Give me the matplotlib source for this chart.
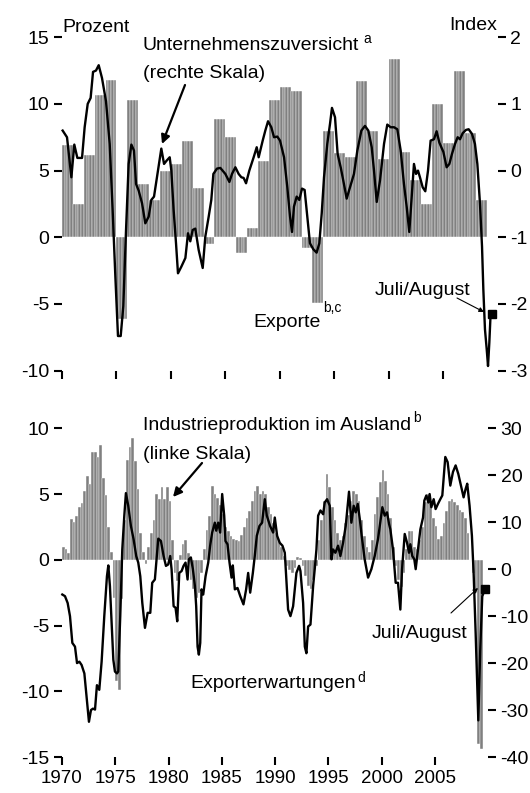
import numpy as np
import matplotlib.pyplot as plt

plt.rcParams['font.family'] = ['Liberation Sans', 'DejaVu Sans']
plt.rcParams['axes.unicode_minus'] = False

W, H = 530, 793

# --- oberes Bild: Exporte (Jahreswerte, linke Skala) ---
export_years = list(range(1970, 2009))
exports = [6.9, 2.5, 6.2, 10.7, 11.8, -6.1, 10.3, 4.0, 2.8, 5.0,
           5.5, 7.2, 3.7, -0.5, 8.9, 7.5, -1.2, 0.7, 5.7, 10.3,
           11.3, 11.0, -0.8, -4.9, 8.0, 6.3, 6.0, 11.7, 8.0, 5.9,
           13.4, 6.4, 4.3, 2.5, 10.0, 7.1, 12.5, 7.8, 2.8]

# Unternehmenszuversicht (rechte Skala, Index)
conf_t = [1970.06, 1970.46, 1970.86, 1971.13, 1971.41, 1971.84, 1972.08, 1972.36, 1972.63, 1972.85,
          1973.12, 1973.37, 1973.67, 1974.04, 1974.38, 1974.65, 1974.90,
          1975.14, 1975.39, 1975.63, 1975.88, 1976.12, 1976.37, 1976.61, 1976.80, 1977.04, 1977.35,
          1977.65, 1977.96, 1978.20, 1978.45, 1978.72, 1979.12, 1979.37, 1979.61, 1979.89,
          1980.04, 1980.25, 1980.47, 1980.65, 1980.96, 1981.33, 1981.57, 1981.78, 1982.00, 1982.24,
          1982.55, 1982.92, 1983.16, 1983.47, 1983.71, 1983.90, 1984.23, 1984.54,
          1985.00, 1985.37, 1985.61, 1985.92, 1986.22, 1986.47, 1986.68, 1986.90, 1987.20, 1987.60,
          1987.88, 1988.06, 1988.43, 1988.67, 1988.92, 1989.22, 1989.47, 1989.77,
          1990.02, 1990.39, 1990.69, 1990.94, 1991.12, 1991.30, 1991.55, 1991.79, 1992.04, 1992.28,
          1992.53, 1992.77, 1993.08, 1993.38, 1993.63, 1993.85, 1994.06, 1994.36, 1994.61, 1994.79,
          1995.07, 1995.31, 1995.59, 1995.83, 1996.14, 1996.45, 1996.81, 1997.12, 1997.49, 1997.82,
          1998.13, 1998.44, 1998.65, 1998.90, 1999.20, 1999.57, 1999.87,
          2000.18, 2000.49, 2000.79, 2001.10, 2001.40, 2001.65, 2001.89, 2002.11, 2002.32, 2002.51,
          2002.69, 2002.87, 2003.12, 2003.36, 2003.61, 2003.85, 2004.16, 2004.40, 2004.65,
          2005.02, 2005.32, 2005.57, 2005.81, 2006.09, 2006.33, 2006.55, 2006.79, 2007.10, 2007.34,
          2007.65, 2007.92, 2008.14, 2008.38, 2008.57, 2008.69, 2008.84, 2009.00, 2009.12, 2009.24,
          2009.36, 2009.46]
conf_v = [0.60, 0.50, -0.10, 0.39, 0.19, 0.19, 0.65, 1.00, 1.09, 1.48,
          1.50, 1.58, 1.39, 1.04, 0.40, -0.59, -1.59,
          -2.48, -2.48, -2.03, -0.89, 0.10, 0.39, 0.30, -0.20, -0.30, -0.49,
          -0.79, -0.69, -0.44, -0.39, -0.10, 0.33, 0.10, 0.15, 0.20,
          0.00, -0.59, -1.09, -1.54, -1.44, -1.31, -0.94, -1.06, -0.89, -0.87,
          -1.19, -1.46, -0.99, -0.69, -0.44, -0.05, 0.03, 0.04,
          -0.05, -0.17, -0.05, 0.05, -0.05, -0.10, -0.11, -0.19, 0.00, 0.20,
          0.35, 0.20, 0.45, 0.60, 0.74, 0.65, 0.50, 0.51,
          0.45, 0.20, -0.25, -0.69, -0.92, -0.54, -0.39, -0.44, -0.27, -0.29,
          -0.69, -1.09, -1.18, -1.23, -1.09, -0.64, -0.10, 0.40, 0.70, 0.94,
          0.80, 0.25, 0.05, -0.15, -0.42, -0.25, -0.05, 0.30, 0.60, 0.67,
          0.60, 0.35, 0.00, -0.47, -0.15, 0.40, 0.69,
          0.65, 0.65, 0.62, 0.30, -0.20, -0.54, -0.92, -0.39, 0.10, -0.05,
          0.00, -0.10, -0.25, -0.31, 0.00, 0.45, 0.47, 0.59, 0.42,
          0.28, 0.05, 0.10, 0.25, 0.40, 0.50, 0.47, 0.56, 0.61, 0.62,
          0.55, 0.40, 0.10, -0.49, -1.14, -1.78, -2.38, -2.68, -2.93, -2.58,
          -2.14, -2.15]
conf_julaug_t, conf_julaug_v = 2009.46, -2.15

# --- unteres Bild: Industrieproduktion im Ausland (Quartale ab 1970Q1, linke Skala) ---
prod_start = 1970
prod = [1.0, 0.8, 0.5, 3.1,   2.9, 3.3, 4.0, 4.3,   5.2, 6.4, 5.8, 8.2,   8.2, 7.8, 8.7, 6.2,
        4.9, 2.5, 0.6, -2.9,  -9.2, -9.9, -3.0, 3.0, 7.6, 8.6, 9.3, 7.5,   5.4, 2.0, 0.6, -0.3,
        1.0, 2.0, 3.0, 5.0,   4.6, 5.5, 4.6, 5.5,   4.5, 1.5, -1.0, -1.6,  0.4, 1.2, 1.5, 0.5,
        -1.5, -2.2, -2.9, -2.5, -1.0, 0.8, 2.3, 3.3, 5.6, 5.0, 4.7, 4.2,   3.5, 2.5, 2.2, 1.8,
        1.6, 1.5, 1.4, 1.9,   2.5, 3.2, 3.7, 4.5,   5.2, 5.6, 5.0, 5.2,   5.0, 4.0, 3.5, 2.8,
        2.0, 1.5, 1.0, 0.3,   -0.5, -0.8, -1.0, -0.6, 0.2, 0.1, -0.5, -1.2, -2.0, -2.2, -1.5, -0.5,
        1.5, 3.0, 4.5, 6.5,   5.5, 4.0, 3.0, 2.0,   1.5, 1.8, 2.8, 3.4,   4.5, 5.2, 5.0, 4.5,
        3.0, 1.8, 1.0, 0.6,   1.5, 3.5, 4.8, 5.9,   6.8, 6.0, 5.0, 3.2,   1.0, -0.5, -1.5, -2.1,
        -1.0, 0.8, 2.2, 2.2,  1.0, 0.8, 1.5, 2.5,   4.4, 5.0, 4.3, 3.2,   2.6, 1.6, 1.8, 2.8,
        3.7, 4.5, 4.6, 4.4,   4.2, 3.8, 3.6, 3.2,   2.0, 0.0, -1.0, -2.2,  -14.0, -14.4]

# Exporterwartungen (rechte Skala)
expect_t = [1970.03, 1970.28, 1970.53, 1970.75, 1970.97, 1971.22, 1971.41, 1971.63, 1971.84, 1972.10,
            1972.31, 1972.53, 1972.72, 1972.91, 1973.10, 1973.28, 1973.50, 1973.72, 1973.97, 1974.22,
            1974.35, 1974.50, 1974.66, 1974.82, 1974.97,
            1975.16, 1975.28, 1975.47, 1975.66, 1975.85, 1976.00, 1976.22, 1976.47, 1976.72, 1976.97,
            1977.16, 1977.35, 1977.54, 1977.79, 1978.04, 1978.29, 1978.47, 1978.72, 1979.04, 1979.29,
            1979.54, 1979.76, 1979.97,
            1980.16, 1980.29, 1980.48, 1980.66, 1980.82, 1981.01, 1981.23, 1981.41, 1981.60, 1981.79,
            1981.91, 1982.10, 1982.29, 1982.48, 1982.60, 1982.73, 1982.85, 1982.98, 1983.10, 1983.26,
            1983.48, 1983.73, 1983.91, 1984.10, 1984.35, 1984.48, 1984.67, 1984.85,
            1985.04, 1985.23, 1985.35, 1985.54, 1985.73, 1985.92, 1986.04, 1986.23, 1986.48, 1986.73,
            1987.04, 1987.29, 1987.48, 1987.67, 1987.92, 1988.10, 1988.29, 1988.54, 1988.79, 1989.04,
            1989.23, 1989.54, 1989.82,
            1989.98, 1990.20, 1990.45, 1990.70, 1990.92, 1991.08, 1991.23, 1991.45, 1991.70, 1992.01,
            1992.26, 1992.39, 1992.64, 1992.80, 1992.95, 1993.11, 1993.33, 1993.58, 1993.73, 1993.89,
            1994.05, 1994.27, 1994.52, 1994.67, 1994.89,
            1995.14, 1995.30, 1995.45, 1995.67, 1995.92, 1996.14, 1996.39, 1996.64, 1996.95, 1997.17,
            1997.39, 1997.58, 1997.77, 1997.96, 1998.14, 1998.42, 1998.74, 1999.05, 1999.36, 1999.67,
            2000.08, 2000.30, 2000.52, 2000.71, 2000.83, 2001.08, 2001.33, 2001.55, 2001.77, 2001.93,
            2002.18, 2002.40, 2002.58, 2002.71, 2002.89, 2003.08, 2003.21, 2003.43, 2003.65, 2003.90,
            2004.02, 2004.21, 2004.40, 2004.52, 2004.68, 2004.90,
            2005.08, 2005.30, 2005.52, 2005.71, 2005.83, 2005.99, 2006.21, 2006.46, 2006.71, 2006.96,
            2007.21, 2007.49, 2007.71, 2007.90, 2008.05, 2008.27, 2008.49, 2008.65, 2008.84, 2008.96,
            2009.09, 2009.27, 2009.46, 2009.71]
expect_v = [-5.4, -5.75, -7.2, -10.0, -15.7, -16.5, -20.0, -19.7, -20.4, -22.2,
            -27.2, -32.5, -30.0, -29.7, -29.9, -24.7, -25.7, -19.7, -10.0, -1.5,
            0.8, -3.6, -11.5, -19.3, -21.8,
            -22.2, -21.8, -10.0, 4.2, 11.4, 16.2, 13.5, 9.2, 6.4, 2.8,
            1.4, -1.5, -7.2, -12.5, -9.3, -9.3, -2.9, -2.2, 6.5, 6.0,
            2.8, 0.7, 1.0,
            2.8, -0.04, -7.9, -8.2, -11.1, -0.8, -0.4, 0.7, 1.4, -2.2,
            2.1, 2.5, 0.0, -3.6, -7.9, -16.5, -18.2, -15.7, -4.3, -5.4,
            -1.5, 1.4, 5.0, 7.8, 9.9, 8.2, 9.9, 7.8,
            16.0, 11.4, 6.0, 5.3, 1.4, -1.8, 0.8, -4.3, -4.0, -5.7,
            -7.5, -4.3, -0.8, -5.0, -0.8, 2.8, 7.1, 9.2, 9.9, 14.9,
            11.4, 9.2, 7.8,
            11.0, 7.1, 5.6, 5.0, 3.5, -2.9, -8.6, -10.0, -7.9, -0.8,
            0.7, -0.4, -7.2, -16.5, -17.9, -12.2, -11.8, -3.6, 0.0, 4.2,
            11.4, 12.5, 11.7, 14.2, 14.9,
            13.5, 2.1, 4.2, 3.5, 5.0, 2.8, 5.6, 9.2, 16.5, 9.9,
            13.5, 12.1, 13.9, 10.7, 7.1, 2.1, -1.8, 0.0, 2.8, 6.4,
            13.2, 11.4, 12.1, 9.6, 8.5, 4.2, -2.9, -2.9, -8.6, 0.0,
            7.5, 5.6, 3.5, 5.3, 2.8, 2.1, 0.0, 4.2, 8.5, 11.0,
            14.6, 15.7, 14.2, 16.0, 13.2, 14.9,
            12.8, 13.9, 14.9, 15.7, 19.2, 23.9, 22.8, 17.8, 20.7, 22.1,
            20.3, 17.5, 15.3, 17.1, 18.2, 13.5, 7.1, -0.8, -13.6, -22.9,
            -32.2, -17.2, -5.8, -4.25]
expect_julaug_t, expect_julaug_v = 2009.71, -4.25

year_ticks = list(range(1970, 2006, 5))
top_left_ticks = [15, 10, 5, 0, -5, -10]
top_right_ticks = [2, 1, 0, -1, -2, -3]
bot_left_ticks = [10, 5, 0, -5, -10, -15]
bot_right_ticks = [30, 20, 10, 0, -10, -20, -30, -40]

BAR = '#808080'
FS = 14


def px(x, y):
    return x / W, 1 - y / H


def style(ax, side):
    for s in ax.spines.values():
        s.set_visible(False)
    ax.tick_params(axis='y', which='both', direction='out', length=5.5, width=1.5,
                   labelsize=FS, pad=3.5, left=(side == 'left'), right=(side == 'right'),
                   labelleft=(side == 'left'), labelright=(side == 'right'))
    ax.tick_params(axis='x', direction='out', length=5.5, width=1.5, labelsize=13.5, pad=4)
    ax.set_facecolor('none')


fig = plt.figure(figsize=(W / 100, H / 100), dpi=100)

# oberes Bild
ax1 = fig.add_axes([62 / W, 1 - 370.7 / H, (497.6 - 62) / W, (370.7 - 37.2) / H])
q = np.array([0, 0.25, 0.5, 0.75])
xq = (np.array(export_years)[:, None] + q[None, :]).ravel()
ax1.bar(xq, np.repeat(exports, 4), width=0.25, align='edge', color=BAR,
        edgecolor='white', linewidth=0.3)
ax1.set_xlim(1970, 2010)
ax1.set_ylim(-10, 15)
ax1.set_yticks(top_left_ticks)
ax1.set_xticks(year_ticks)
ax1.set_xticklabels([])
style(ax1, 'left')

ax1r = ax1.twinx()
ax1r.plot(conf_t, conf_v, color='black', lw=1.7, clip_on=False)
ax1r.plot(conf_julaug_t, conf_julaug_v, marker='s', ms=5.5, color='black', clip_on=False)
ax1r.set_ylim(-3, 2)
ax1r.set_yticks(top_right_ticks)
style(ax1r, 'right')

# unteres Bild
ax2 = fig.add_axes([62 / W, 1 - 757 / H, (488 - 62) / W, (757 - 428.3) / H])
xp = prod_start + 0.25 * np.arange(len(prod))
ax2.bar(xp, prod, width=0.25, align='edge', color=BAR, edgecolor='white', linewidth=0.3)
ax2.set_xlim(1970, 2010)
ax2.set_ylim(-15, 10)
ax2.set_yticks(bot_left_ticks)
ax2.set_xticks(year_ticks)
ax2.set_xticklabels([str(y) for y in year_ticks])
style(ax2, 'left')

ax2r = ax2.twinx()
ax2r.plot(expect_t, expect_v, color='black', lw=1.7, clip_on=False)
ax2r.plot(expect_julaug_t, expect_julaug_v, marker='s', ms=5.5, color='black', clip_on=False)
ax2r.set_ylim(-40, 30)
ax2r.set_yticks(bot_right_ticks)
style(ax2r, 'right')


def label(x, y, s, size=FS, ha='left'):
    fig.text(*px(x, y), s, fontsize=size, ha=ha, va='baseline')


def arrow(x0, y0, x1, y1, lw, ms):
    fig.add_artist(plt.matplotlib.patches.FancyArrowPatch(
        px(x0, y0), px(x1, y1), transform=fig.transFigure, arrowstyle='-|>',
        mutation_scale=ms, lw=lw, color='black', shrinkA=0, shrinkB=0))


label(62, 32, 'Prozent')
label(497, 30, 'Index', ha='right')
label(143, 50, 'Unternehmenszuversicht')
label(363, 43, 'a', size=10)
label(143, 78, '(rechte Skala)')
arrow(185, 85, 162, 144, 1.6, 13)
label(253, 327, 'Exporte')
label(323, 312, 'b,c', size=10)
label(375, 295, 'Juli/August')
arrow(457, 298, 484, 312, 0.8, 7)

label(143, 430, 'Industrieproduktion im Ausland')
label(413, 422, 'b', size=10)
label(143, 459, '(linke Skala)')
arrow(202, 463, 173, 497, 1.6, 13)
label(190, 688, 'Exporterwartungen')
label(357, 682, 'd', size=10)
label(372, 638, 'Juli/August')
arrow(451, 613, 478, 588, 0.8, 7)

fig.savefig('out.png', dpi=100)
